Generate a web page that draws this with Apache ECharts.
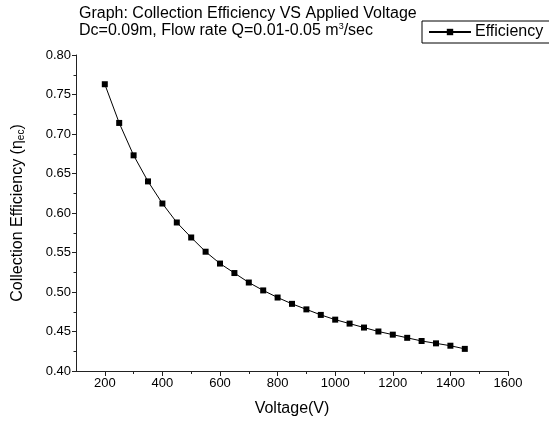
<!DOCTYPE html>
<html><head><meta charset="utf-8">
<script src="https://cdn.jsdelivr.net/npm/echarts@6/dist/echarts.min.js"></script>
<style>html,body{margin:0;padding:0;background:#fff}#c{width:549px;height:423px}</style>
</head><body><div id="c"></div>
<script>
const voltage = [200,250,300,350,400,450,500,550,600,650,700,750,800,850,900,950,1000,1050,1100,1150,1200,1250,1300,1350,1400,1450];
const efficiency = [0.763,0.714,0.673,0.640,0.612,0.588,0.569,0.551,0.536,0.524,0.512,0.502,0.493,0.485,0.478,0.471,0.465,0.460,0.455,0.450,0.446,0.442,0.438,0.435,0.432,0.428];
const xMajorTicks = [200,400,600,800,1000,1200,1400,1600];
const xMinorTicks = [300,500,700,900,1100,1300,1500];
const seriesName = 'Efficiency';
const titleLine1 = 'Graph: Collection Efficiency VS Applied Voltage';
const titleLine2 = 'Dc=0.09m, Flow rate Q=0.01-0.05 m{sup|3}/sec';

const FF = '"Liberation Sans", Arial, sans-serif';
const chart = echarts.init(document.getElementById('c'), null, {renderer:'canvas'});
const axisColor = '#222';
chart.setOption({
  animation:false,
  backgroundColor:'#fff',
  title:{
    text: titleLine1 + '\n' + titleLine2,
    left: 79, top: 5, padding:0,
    textStyle:{fontFamily:FF,fontSize:16,fontWeight:'normal',color:'#000',lineHeight:17,
      rich:{sup:{fontFamily:FF,fontSize:9,verticalAlign:'top',lineHeight:17,padding:[0,0,7,0],color:'#000'}}}
  },
  legend:{
    data:[seriesName], left:422, top:21,
    borderColor:'#000', borderWidth:1, padding:[3,30,3,6],
    itemWidth:42, itemHeight:8, itemGap:4,
    textStyle:{fontFamily:FF,fontSize:16,color:'#000',padding:[0,0,0,-1]}
  },
  grid:{left:76, top:55, width:432, height:316, containLabel:false},
  xAxis:[{
    type:'value', min:100, max:1600, position:'bottom',
    name:'Voltage(V)', nameLocation:'middle', nameGap:30,
    nameTextStyle:{fontFamily:FF,fontSize:16,color:'#000'},
    axisLine:{lineStyle:{color:axisColor,width:1}},
    axisTick:{show:true,length:5,inside:false,customValues:xMajorTicks,lineStyle:{color:axisColor}},
    axisLabel:{customValues:xMajorTicks,formatter:v=>String(v),fontFamily:FF,fontSize:13,color:'#000',margin:6},
    splitLine:{show:false}
  },{
    type:'value', min:100, max:1600, position:'bottom', gridIndex:0,
    axisLine:{show:false},
    axisTick:{show:true,length:3,customValues:xMinorTicks,lineStyle:{color:axisColor}},
    axisLabel:{show:false}, splitLine:{show:false}
  }],
  yAxis:{
    type:'value', min:0.40, max:0.80, interval:0.05,
    name:'Collection Efficiency (η{sub|ec})', nameLocation:'middle', nameGap:50, nameRotate:90,
    nameTextStyle:{fontFamily:FF,fontSize:16,color:'#000',
      rich:{sub:{fontFamily:FF,fontSize:10,verticalAlign:'bottom',padding:[6,0,0,0],color:'#000'}}},
    axisLine:{show:true,lineStyle:{color:axisColor,width:1}},
    axisTick:{show:true,length:4,lineStyle:{color:axisColor}},
    minorTick:{show:true,splitNumber:2,length:2.5,lineStyle:{color:axisColor}},
    axisLabel:{formatter:v=>v.toFixed(2),fontFamily:FF,fontSize:13,color:'#000',margin:5},
    splitLine:{show:false}
  },
  series:[{
    name:seriesName, type:'line', xAxisIndex:0,
    data: voltage.map((v,i)=>[v,efficiency[i]]),
    symbol:'rect', symbolSize:6,
    itemStyle:{color:'#000'},
    lineStyle:{color:'#000',width:1}
  }]
});
</script></body></html>
